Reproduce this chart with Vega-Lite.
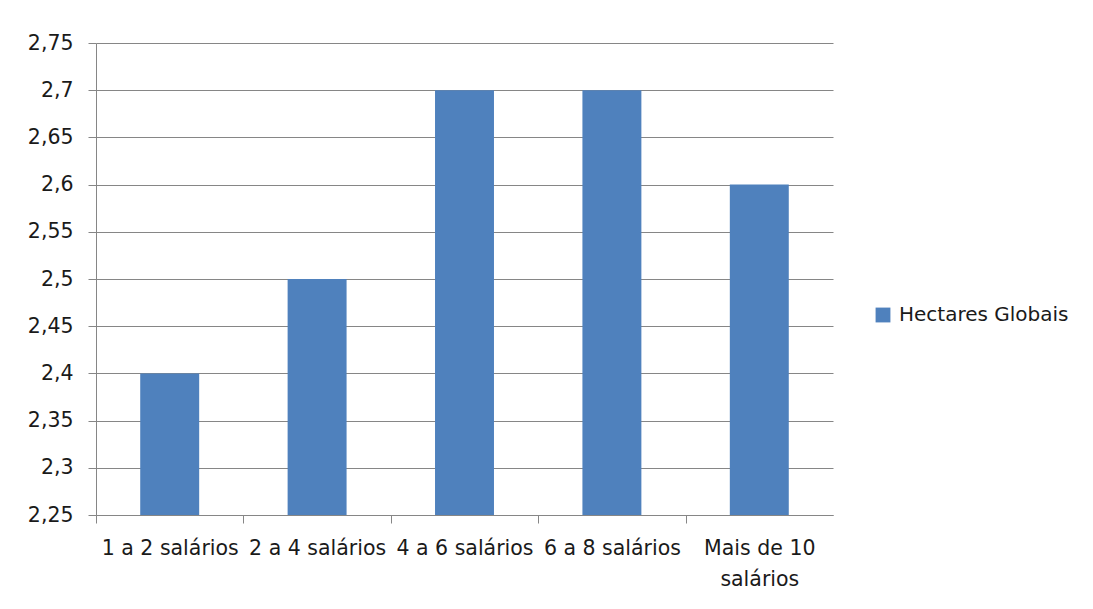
{
  "$schema": "https://vega.github.io/schema/vega-lite/v6.json",
  "width": 737,
  "height": 472,
  "autosize": {"type": "none"},
  "padding": {"left": 96, "top": 43, "right": 260, "bottom": 94},
  "background": "white",
  "data": {
    "values": [
      {"faixa": "1 a 2 salários", "valor": 2.4, "serie": "Hectares Globais"},
      {"faixa": "2 a 4 salários", "valor": 2.5, "serie": "Hectares Globais"},
      {"faixa": "4 a 6 salários", "valor": 2.7, "serie": "Hectares Globais"},
      {"faixa": "6 a 8 salários", "valor": 2.7, "serie": "Hectares Globais"},
      {"faixa": "Mais de 10 salários", "valor": 2.6, "serie": "Hectares Globais"}
    ]
  },
  "mark": {"type": "bar", "clip": true},
  "encoding": {
    "x": {
      "field": "faixa",
      "type": "nominal",
      "sort": null,
      "scale": {"paddingInner": 0.6, "paddingOuter": 0.3},
      "axis": {
        "title": null,
        "labelAngle": 0,
        "tickOffset": -73.7,
        "labelOffset": 73.7,
        "labelFont": "DejaVu Sans",
        "labelFontSize": 20.5,
        "labelColor": "#1a1a1a",
        "labelPadding": 15,
        "labelLineHeight": 31,
        "labelLimit": 300,
        "labelOverlap": false,
        "labelBound": false,
        "labelExpr": "datum.label == 'Mais de 10 salários' ? ['Mais de 10', 'salários'] : datum.label",
        "domainColor": "#868686",
        "tickColor": "#868686",
        "tickSize": 8,
        "grid": false
      }
    },
    "y": {
      "field": "valor",
      "type": "quantitative",
      "scale": {"domain": [2.25, 2.75], "zero": false, "nice": false},
      "axis": {
        "title": null,
        "values": [2.25, 2.3, 2.35, 2.4, 2.45, 2.5, 2.55, 2.6, 2.65, 2.7, 2.75],
        "labelExpr": "replace(format(datum.value, '.2~f'), '.', ',')",
        "labelFont": "DejaVu Sans",
        "labelFontSize": 20.5,
        "labelColor": "#1a1a1a",
        "labelPadding": 15,
        "labelOverlap": false,
        "labelBound": false,
        "domainColor": "#868686",
        "tickColor": "#868686",
        "tickSize": 8,
        "grid": true,
        "gridColor": "#868686",
        "gridWidth": 1
      }
    },
    "color": {
      "field": "serie",
      "type": "nominal",
      "scale": {"range": ["#4F81BD"]},
      "legend": {
        "title": null,
        "orient": "none",
        "legendX": 777,
        "legendY": 262,
        "symbolType": "square",
        "symbolSize": 220,
        "symbolStrokeWidth": 0,
        "labelFont": "DejaVu Sans",
        "labelFontSize": 20,
        "labelLimit": 400,
        "labelColor": "#1a1a1a",
        "labelOffset": 6
      }
    }
  },
  "config": {
    "view": {"stroke": null}
  }
}
